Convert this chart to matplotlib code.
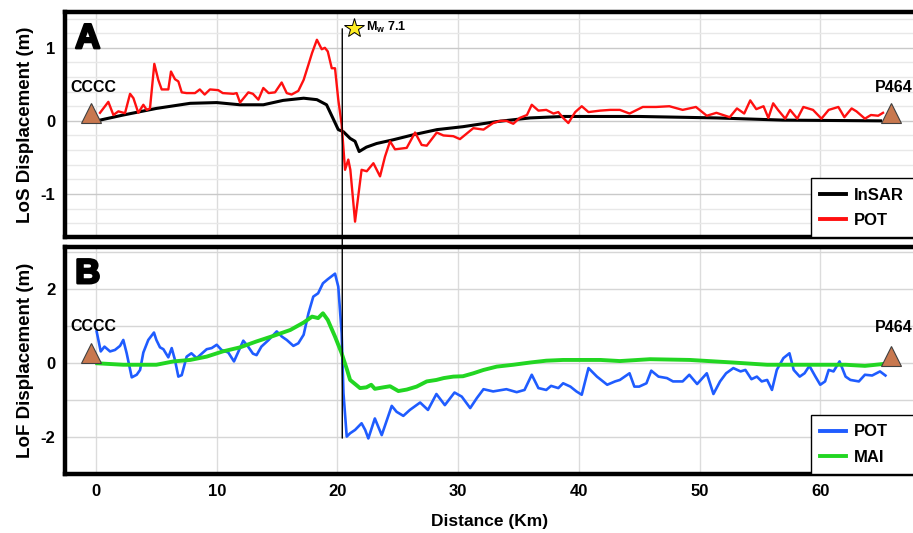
import matplotlib
matplotlib.use("Agg")
import matplotlib.pyplot as plt
from matplotlib.patches import ConnectionPatch
from matplotlib.ticker import MultipleLocator, FixedLocator
import matplotlib.patheffects as pe

plt.rcParams['font.family'] = ['Liberation Sans', 'DejaVu Sans']
plt.rcParams['font.weight'] = 'bold'
plt.rcParams['axes.unicode_minus'] = False
plt.rcParams['mathtext.fontset'] = 'custom'
plt.rcParams['mathtext.rm'] = 'Liberation Sans:bold'
plt.rcParams['mathtext.bf'] = 'Liberation Sans:bold'

# ---------------- data ----------------
pot_los_x = [0.33, 1.02, 1.44, 1.85, 2.40, 2.82, 3.1, 3.5, 3.92, 4.2, 4.47, 4.83, 5.16, 5.44, 5.99, 6.21,
             6.54, 6.82, 7.1, 7.5, 8.2, 8.6, 9.0, 9.44, 10.13, 10.5, 11.38, 11.65, 11.93, 12.62, 13.0, 13.45,
             13.86, 14.3, 14.83, 15.38, 15.8, 16.2, 16.76, 17.2, 17.6, 17.9, 18.3, 18.7, 18.96, 19.2, 19.53,
             19.8, 20.07, 20.35, 20.63, 20.9, 21.07, 21.46, 22.0, 22.43, 22.98, 23.53, 23.94, 24.36, 24.77,
             25.74, 26.43, 26.98, 27.4, 28.23, 28.78, 29.6, 30.15, 31.26, 32.1, 32.9, 33.5, 34.0, 34.57, 35.1,
             35.7, 36.1, 36.65, 37.3, 37.9, 38.3, 38.7, 39.13, 39.7, 40.24, 40.8, 41.76, 42.6, 43.4, 44.2, 45.3,
             46.4, 47.5, 48.6, 49.7, 50.6, 51.4, 52.5, 53.1, 53.7, 54.2, 54.7, 55.3, 55.7, 56.1, 56.5, 57.1,
             57.5, 58.1, 58.6, 59.4, 60.1, 60.7, 61.5, 62.0, 62.6, 63.0, 63.7, 64.2, 64.8, 65.2]
pot_los_y = [0.11, 0.26, 0.08, 0.13, 0.105, 0.37, 0.31, 0.11, 0.22, 0.15, 0.17, 0.78, 0.56, 0.43, 0.43, 0.675,
             0.57, 0.54, 0.39, 0.38, 0.38, 0.43, 0.36, 0.43, 0.42, 0.38, 0.37, 0.38, 0.25, 0.39, 0.37, 0.29,
             0.45, 0.38, 0.39, 0.525, 0.38, 0.36, 0.41, 0.56, 0.77, 0.93, 1.11, 0.98, 1.0, 0.95, 0.72,
             0.72, 0.29, -0.05, -0.67, -0.53, -0.67, -1.38, -0.67, -0.69, -0.58, -0.76, -0.49, -0.28, -0.39,
             -0.37, -0.16, -0.33, -0.34, -0.16, -0.2, -0.21, -0.25, -0.1, -0.12, -0.03, 0.0, 0.0, -0.04, 0.04,
             0.08, 0.22, 0.14, 0.15, 0.1, 0.12, 0.04, -0.03, 0.12, 0.2, 0.12, 0.14, 0.15, 0.15, 0.1, 0.19,
             0.19, 0.2, 0.15, 0.19, 0.07, 0.11, 0.05, 0.17, 0.1, 0.28, 0.16, 0.2, 0.04, 0.24, 0.15, 0.03,
             0.15, 0.03, 0.19, 0.15, 0.03, 0.15, 0.19, 0.05, 0.17, 0.13, 0.03, 0.08, 0.07, 0.11]

insar_x = [0.33, 2.26, 5.0, 7.8, 10.0, 11.93, 13.86, 15.5, 17.2, 18.3, 19.1, 19.7, 20.07, 20.5, 21.05, 21.46,
           21.8, 22.4, 23.25, 24.6, 26.3, 28.25, 30.4, 33.2, 35.96, 38.7, 41.0, 45.0, 51.4, 56.9, 65.0]
insar_y = [0.01, 0.08, 0.17, 0.24, 0.25, 0.22, 0.22, 0.28, 0.31, 0.29, 0.22, 0.01, -0.12, -0.15, -0.24, -0.28,
           -0.42, -0.36, -0.31, -0.26, -0.19, -0.12, -0.08, -0.01, 0.04, 0.06, 0.06, 0.06, 0.04, 0.01, 0.0]

pot_lof_x = [0.05, 0.39, 0.7, 1.16, 1.57, 1.99, 2.26, 2.54, 2.96, 3.37,
             3.65, 3.92, 4.33, 4.8, 5.0, 5.3, 5.58, 5.99, 6.27, 6.54,
             6.82, 7.1, 7.51, 7.9, 8.34, 8.76, 9.17, 9.58, 10.0, 10.4,
             10.96, 11.43, 11.8, 12.2, 12.6, 13.0, 13.3, 13.7, 14.3, 14.97,
             15.4, 15.8, 16.35, 16.76, 17.2, 17.6, 18.0, 18.4, 18.8, 19.2,
             19.8, 20.07, 20.35, 20.5, 20.77, 21.05, 21.46, 22.0, 22.3, 22.56,
             23.1, 23.67, 24.1, 24.5, 24.9, 25.46, 26.0, 26.85, 27.5, 28.2,
             28.9, 29.7, 30.3, 31.0, 31.55, 32.1, 32.9, 34.0, 34.85, 35.5,
             36.1, 36.65, 37.3, 37.7, 38.3, 38.7, 39.3, 39.8, 40.24, 40.8,
             41.5, 42.35, 43.0, 43.4, 44.2, 44.6, 45.0, 45.6, 46.0, 46.6,
             47.3, 47.8, 48.6, 49.15, 49.8, 50.6, 51.15, 51.7, 52.2, 52.8,
             53.4, 53.8, 54.3, 54.75, 55.15, 55.6, 56.0, 56.4, 56.95, 57.45,
             57.8, 58.3, 58.7, 59.1, 59.6, 60.0, 60.4, 60.7, 61.1, 61.6,
             62.1, 62.5, 63.2, 63.7, 64.3, 64.95, 65.4]
pot_lof_y = [0.85, 0.31, 0.44, 0.31, 0.35, 0.46, 0.62, 0.26, -0.39, -0.32,
             -0.19, 0.28, 0.62, 0.82, 0.62, 0.42, 0.37, 0.15, 0.4, 0.08,
             -0.37, -0.33, 0.17, 0.26, 0.13, 0.25, 0.37, 0.4, 0.49, 0.35,
             0.28, 0.04, 0.31, 0.6, 0.44, 0.25, 0.21, 0.44, 0.62, 0.85,
             0.71, 0.62, 0.46, 0.53, 0.76, 1.34, 1.79, 1.88, 2.15, 2.26,
             2.41, 2.06, 0.8, -0.82, -1.99, -1.9, -1.81, -1.63, -1.81, -2.04,
             -1.5, -1.95, -1.54, -1.16, -1.32, -1.43, -1.27, -1.07, -1.27, -0.84,
             -1.14, -0.8, -0.91, -1.22, -0.95, -0.71, -0.77, -0.71, -0.79, -0.73,
             -0.32, -0.68, -0.73, -0.62, -0.68, -0.55, -0.64, -0.77, -0.86, -0.14,
             -0.37, -0.59, -0.5, -0.46, -0.28, -0.64, -0.64, -0.55, -0.21, -0.37,
             -0.41, -0.5, -0.5, -0.32, -0.57, -0.28, -0.84, -0.5, -0.28, -0.14,
             -0.23, -0.19, -0.44, -0.37, -0.5, -0.46, -0.73, -0.19, 0.13, 0.26,
             -0.19, -0.37, -0.28, -0.08, -0.37, -0.59, -0.5, -0.19, -0.23, 0.04,
             -0.37, -0.46, -0.5, -0.32, -0.34, -0.23, -0.34]

mai_x = [0.1, 2.26, 3.65, 5.0, 6.4, 7.8, 9.17, 10.5, 11.93, 13.3,
         14.7, 16.1, 17.2, 17.9, 18.4, 18.8, 19.2, 19.8, 20.35, 20.8,
         21.05, 21.87, 22.4, 22.8, 23.1, 23.8, 24.36, 25.05, 25.74, 26.56,
         27.4, 28.2, 28.8, 29.6, 30.4, 31.26, 32.1, 33.2, 34.57, 35.96,
         37.3, 38.7, 40.4, 41.8, 43.4, 45.9, 49.2, 52.8, 55.6, 59.3,
         62.1, 63.7, 65.2]
mai_y = [-0.01, -0.05, -0.05, -0.05, 0.04, 0.08, 0.17, 0.31, 0.42, 0.58,
         0.73, 0.89, 1.09, 1.25, 1.21, 1.34, 1.16, 0.71, 0.26, -0.19,
         -0.46, -0.68, -0.66, -0.59, -0.7, -0.66, -0.63, -0.76, -0.72, -0.64,
         -0.5, -0.46, -0.41, -0.37, -0.36, -0.28, -0.19, -0.1, -0.05, 0.01,
         0.06, 0.08, 0.08, 0.08, 0.05, 0.1, 0.08, 0.01, -0.05, -0.05,
         -0.05, -0.08, -0.03]

stations = ["CCCC", "P464"]
station_x = [-0.4, 65.9]
station_y_top = [0.11, 0.11]
station_y_bot = [0.27, 0.20]
label_y_top = [0.45, 0.45]
label_y_bot = [0.97, 0.95]

quake_x = 20.4
quake_label = r"M$_{\mathrm{w}}$ 7.1"

x_ticks = [0, 10, 20, 30, 40, 50, 60]
top_ticks = [-1, 0, 1]
bot_ticks = [-2, 0, 2]

# ---------------- figure ----------------
W, H = 913, 533
fig = plt.figure(figsize=(W / 100, H / 100), dpi=100)

def px_axes(l, t, r, b):
    return fig.add_axes([l / W, 1 - b / H, (r - l) / W, (b - t) / H])

AX_L, AX_R = 65, 915
ax1 = px_axes(AX_L, 12, AX_R, 237)
ax2 = px_axes(AX_L, 247, AX_R, 474)

xlim = (-2.57, 67.85)
tri_color = '#c8784f'

for ax in (ax1, ax2):
    ax.set_xlim(*xlim)
    ax.xaxis.set_major_locator(FixedLocator(x_ticks))
    for s in ax.spines.values():
        s.set_linewidth(3.2)
        s.set_color('black')
    ax.tick_params(length=0, labelsize=12, pad=7)
    ax.grid(True, which='major', axis='x', color='#dcdcdc', linewidth=1.0)
    ax.set_axisbelow(True)

# Top panel
ax1.set_ylim(-1.59, 1.49)
ax1.yaxis.set_major_locator(FixedLocator(top_ticks))
ax1.yaxis.set_minor_locator(MultipleLocator(0.2))
ax1.grid(True, which='major', axis='y', color='#c9c9c9', linewidth=1.0)
ax1.grid(True, which='minor', axis='y', color='#e8e8e8', linewidth=1.0)
ax1.tick_params(which='minor', length=0)
ax1.tick_params(axis='x', labelbottom=False)
ax1.plot(insar_x, insar_y, color='black', lw=2.2, label='InSAR', zorder=3)
ax1.plot(pot_los_x, pot_los_y, color='#ff1010', lw=1.7, label='POT', zorder=4)
ax1.set_ylabel('LoS Displacement (m)', fontsize=13.5, fontweight='bold', labelpad=5)

# Bottom panel
ax2.set_ylim(-3.0, 3.13)
ax2.yaxis.set_major_locator(FixedLocator(bot_ticks))
ax2.yaxis.set_minor_locator(MultipleLocator(1))
ax2.grid(True, which='both', axis='y', color='#d6d6d6', linewidth=1.0)
ax2.tick_params(which='minor', length=0)
ax2.plot(pot_lof_x, pot_lof_y, color='#1f5cff', lw=1.9, label='POT', zorder=3)
ax2.plot(mai_x, mai_y, color='#22d622', lw=2.8, label='MAI', zorder=4)
ax2.set_ylabel('LoF Displacement (m)', fontsize=13.5, fontweight='bold', labelpad=5)
ax2.set_xlabel('Distance (Km)', fontsize=12.5, fontweight='bold', labelpad=11)

# Stations
for ax, sy, ly in ((ax1, station_y_top, label_y_top), (ax2, station_y_bot, label_y_bot)):
    ax.plot(station_x, sy, linestyle='none', marker='^', markersize=15,
            markerfacecolor=tri_color, markeredgecolor='#404040', markeredgewidth=0.8,
            zorder=6, clip_on=False)
    for name, xx, yy in zip(stations, station_x, ly):
        ax.text(xx + 0.2, yy, name, fontsize=11.5, fontweight='bold', ha='center', va='center', zorder=7)

# Earthquake line and star
con = ConnectionPatch(xyA=(quake_x, 1.26), coordsA=ax1.transData,
                      xyB=(quake_x, -2.03), coordsB=ax2.transData,
                      color='black', lw=1.0, zorder=10)
fig.add_artist(con)
ax1.plot([quake_x + 1.0], [1.27], marker='*', markersize=15, markerfacecolor='#ffee22',
         markeredgecolor='black', markeredgewidth=0.7, linestyle='none', zorder=8, clip_on=False)
ax1.text(quake_x + 2.0, 1.28, quake_label, fontsize=9, fontweight='bold', ha='left', va='center')

# Panel letters
for ax, letter in ((ax1, 'A'), (ax2, 'B')):
    ax.text(0.012, 0.955, letter, transform=ax.transAxes, fontsize=25, fontweight='bold',
            ha='left', va='top', color='black',
            path_effects=[pe.withStroke(linewidth=1.8, foreground='black')], zorder=9)

# Legends (fixed-width box starting near x=811 px)
leg_x0 = (811 - AX_L) / (AX_R - AX_L)
for ax in (ax1, ax2):
    leg = ax.legend(loc='lower left', bbox_to_anchor=(leg_x0, 0.0, 1.0 - leg_x0, 0.2),
                    mode='expand', borderaxespad=0.0,
                    fancybox=False, framealpha=1.0, edgecolor='black',
                    prop={'weight': 'bold', 'size': 12}, handlelength=1.55,
                    handletextpad=0.5, labelspacing=0.62, borderpad=0.55)
    leg.get_frame().set_linewidth(1.0)
    for line in leg.get_lines():
        line.set_linewidth(2.8)
    leg.set_zorder(20)

fig.savefig('out.png', dpi=100)
